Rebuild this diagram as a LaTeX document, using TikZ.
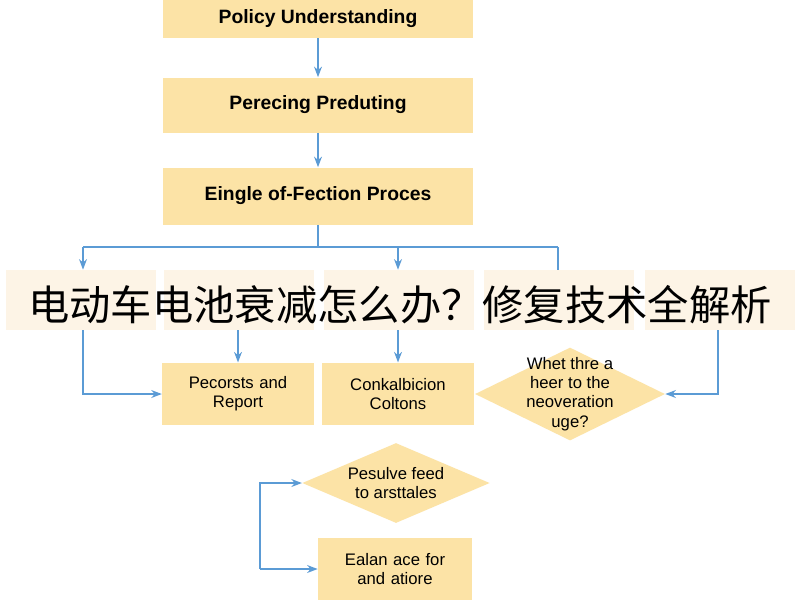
\documentclass[tikz,border=0pt]{standalone}
\usepackage{fontspec}
\setmainfont{Liberation Sans}
\newfontfamily\cjk{Noto Sans CJK SC}
\usetikzlibrary{shapes.geometric,arrows.meta}
\definecolor{boxfill}{HTML}{FCE3A6}
\definecolor{fadefill}{HTML}{FDF4E6}
\definecolor{flowblue}{HTML}{5B9BD5}
\begin{document}
\begin{tikzpicture}[
        x=0.02cm, y=-0.02cm,
        phase/.style={rectangle, fill=boxfill, minimum width=6.2cm, text centered, font=\bfseries\fontsize{11}{13}\selectfont},
        task/.style={rectangle, fill=boxfill, minimum width=3.0cm, minimum height=1.25cm, text width=2.8cm, align=center, font=\fontsize{9.5}{11}\selectfont},
        query/.style={diamond, fill=boxfill, inner sep=0pt},
        label/.style={align=center, font=\fontsize{9.5}{11}\selectfont},
        faded/.style={rectangle, fill=fadefill, minimum width=3.0cm, minimum height=1.2cm},
        flow/.style={draw=flowblue, thick, -{Stealth[length=6pt]}},
        link/.style={draw=flowblue, thick}
    ]
        \useasboundingbox[fill=white] (0,0) rectangle (800,600);

        % Main steps
        \node[phase, minimum height=0.76cm] (policy) at (318,19) {Policy Understanding};
        \node[phase, minimum height=1.1cm] (perceive) at (318,105) {Perecing Preduting};
        \node[phase, minimum height=1.14cm] (single) at (318,196) {Eingle of-Fection Proces};
        \draw[flow] (policy) -- (perceive);
        \draw[flow] (perceive) -- (single);

        % Faded row
        \node[faded] (fadeA) at (81,300) {};
        \node[faded] (fadeB) at (239,300) {};
        \node[faded] (fadeC) at (399,300) {};
        \node[faded] (fadeD) at (559,300) {};
        \node[faded] (fadeE) at (720,300) {};

        % Branches
        \coordinate (split) at (318,247);
        \coordinate (splitL) at (83,247);
        \coordinate (splitM) at (398,247);
        \coordinate (splitR) at (558,247);
        \draw[link] (single) -- (split);
        \draw[link] (splitL) -- (splitR);
        \draw[flow] (splitL) -- (splitL |- fadeA.north);
        \draw[flow] (splitM) -- (splitM |- fadeC.north);
        \draw[link] (splitR) -- (splitR |- fadeD.north);

        % Lower row
        \node[task] (records) at (238,394) {Pecorsts and\\Report};
        \node[task] (combine) at (398,394) {Conkalbicion\\Coltons};
        \node[query, minimum width=3.8cm, minimum height=1.86cm] (what) at (570,394) {};
        \node[label] (whatText) at (what) {Whet thre a\\heer to the\\neoveration\\uge?};
        \draw[flow] (splitL |- fadeA.south) |- (records.west);
        \draw[flow] (fadeB.south -| records) -- (records.north);
        \draw[flow] (fadeC.south -| combine) -- (combine.north);
        \coordinate (outR) at (718,330);
        \draw[flow] (outR) |- (what.east);

        % Loop
        \node[query, minimum width=3.75cm, minimum height=1.6cm] (resolve) at (396,483) {};
        \node[label] (resolveText) at (resolve) {Pesulve feed\\to arsttales};
        \node[task, minimum width=3.08cm] (balance) at (395,569) {Ealan ace for\\and atiore};
        \coordinate (loop) at (260,569);
        \draw[flow] (loop) |- (resolve.west);
        \draw[flow] (loop) -- (balance.west);

        % Title strip
        \node[font=\cjk\fontsize{23.5}{28}\selectfont] (title) at (400,305) {电动车电池衰减怎么办？修复技术全解析};
    \end{tikzpicture}
\end{document}
